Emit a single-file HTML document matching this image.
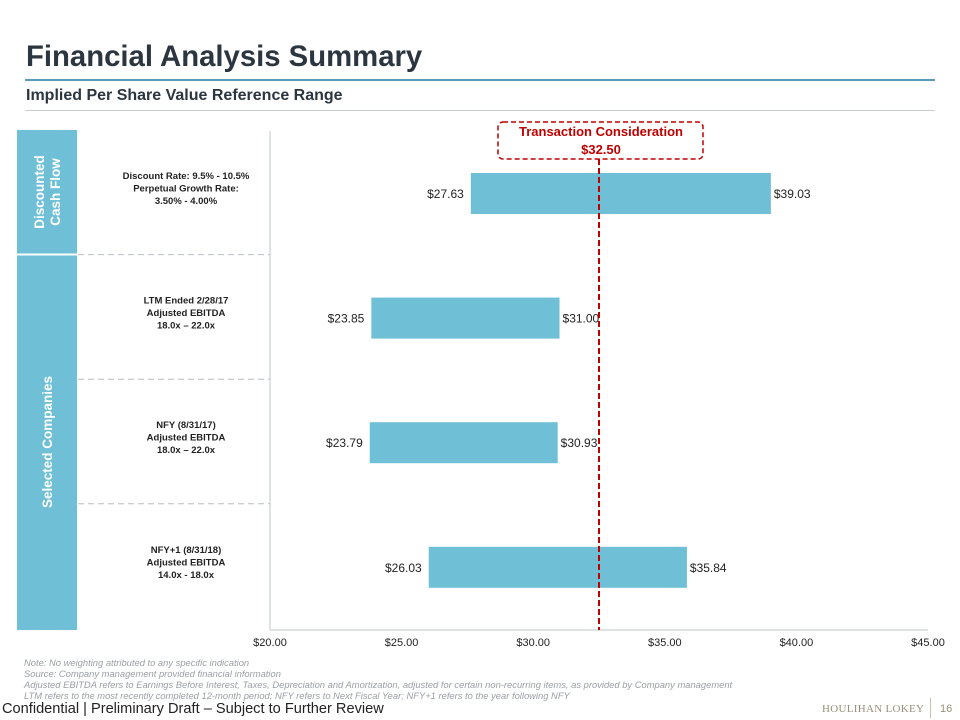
<!DOCTYPE html>
<html><head><meta charset="utf-8"><style>
body{margin:0;width:960px;height:720px;background:#fff;font-family:"Liberation Sans",Arial,sans-serif;position:relative;overflow:hidden}
.a{position:absolute}
</style></head><body>
<div class="a" style="left:26px;top:40px;font-size:29.3px;font-weight:bold;color:#2b3640">Financial Analysis Summary</div>
<div class="a" style="left:25px;top:79px;width:910px;height:2px;background:#5b9bc0"></div>
<div class="a" style="left:26px;top:87px;font-size:16px;font-weight:bold;color:#2b3640">Implied Per Share Value Reference Range</div>
<div class="a" style="left:25px;top:110px;width:910px;height:1px;background:#c8cdd0"></div>
<svg class="a" style="left:0;top:0" width="960" height="720" id="chart"></svg>
<div class="a" style="left:24px;top:657px;font-size:9.4px;font-style:italic;color:#9aa0a4;line-height:11px;white-space:nowrap">Note: No weighting attributed to any specific indication<br>Source: Company management provided financial information<br>Adjusted EBITDA refers to Earnings Before Interest, Taxes, Depreciation and Amortization, adjusted for certain non-recurring items, as provided by Company management<br>LTM refers to the most recently completed 12-month period; NFY refers to Next Fiscal Year; NFY+1 refers to the year following NFY</div>
<div class="a" style="left:2px;top:701px;font-size:14.6px;color:#222;white-space:nowrap">Confidential | Preliminary Draft – Subject to Further Review</div>
<div class="a" style="left:822px;top:703px;font-family:'Liberation Serif',serif;font-size:11px;letter-spacing:0.3px;color:#9a8f7a">HOULIHAN LOKEY</div>
<div class="a" style="left:930px;top:698px;width:1px;height:20px;background:#c9c0b0"></div>
<div class="a" style="left:940px;top:703px;font-size:11px;color:#9a8f7a">16</div>
<script>
const lows=[27.63,23.85,23.79,26.03];
const highs=[39.03,31.00,30.93,35.84];
const ticks=[20,25,30,35,40,45];
const txValue=32.50;
const rowLabels=[["Discount Rate: 9.5% - 10.5%","Perpetual Growth Rate:","3.50% - 4.00%"],["LTM Ended 2/28/17","Adjusted EBITDA","18.0x – 22.0x"],["NFY (8/31/17)","Adjusted EBITDA","18.0x – 22.0x"],["NFY+1 (8/31/18)","Adjusted EBITDA","14.0x - 18.0x"]];
const svg=document.getElementById('chart');const NS='http://www.w3.org/2000/svg';
const X0=270,X1=928,top0=130,bot=630,rowH=124.6;
const x=v=>X0+(v-20)/25*(X1-X0);
const yc=i=>top0+rowH*i+63;
function mk(t,a,p){const e=document.createElementNS(NS,t);for(const k in a)e.setAttribute(k,a[k]);(p||svg).appendChild(e);return e}
let e;
e=mk('rect',{x:17,y:130,width:60,height:500,fill:'#6fbfd6'});

e=mk('line',{x1:17,x2:77,y1:254.5,y2:254.5,stroke:'#fff','stroke-width':2});

e=mk('text',{transform:'translate(52,192) rotate(-90)','text-anchor':'middle','font-size':13.5,'font-weight':'bold',fill:'#fff'});
e.innerHTML='<tspan x="0" dy="-8">Discounted</tspan><tspan x="0" dy="16">Cash Flow</tspan>';

e=mk('text',{transform:'translate(52,442) rotate(-90)','text-anchor':'middle','font-size':13.5,'font-weight':'bold',fill:'#fff'});e.textContent='Selected Companies';

for(let i=1;i<4;i++){e=mk('line',{x1:78,x2:270,y1:top0+rowH*i,y2:top0+rowH*i,stroke:'#b8bec2','stroke-dasharray':'6,4'});
}
e=mk('line',{x1:X0,x2:X0,y1:131,y2:bot,stroke:'#bfc4c7'});

e=mk('line',{x1:X0,x2:X1,y1:bot,y2:bot,stroke:'#bfc4c7'});

ticks.forEach(t=>{e=mk('text',{x:x(t),y:646,'text-anchor':'middle','font-size':11,fill:'#222'});e.textContent='$'+t.toFixed(2);
});
rowLabels.forEach((ls,i)=>{e=mk('text',{x:186,y:yc(i)-14,'text-anchor':'middle','font-size':9.5,'font-weight':'bold',fill:'#222'});
e.innerHTML=ls.map((l,j)=>'<tspan x="186" dy="'+(j?12.5:0)+'">'+l+'</tspan>').join('');
});
lows.forEach((lo,i)=>{const hi=highs[i];
e=mk('rect',{x:x(lo),y:yc(i)-20,width:x(hi)-x(lo),height:41,fill:'#6fbfd6'});

e=mk('text',{x:x(lo)-7,y:yc(i)+5,'text-anchor':'end','font-size':12,fill:'#222'});e.textContent='$'+lo.toFixed(2);

e=mk('text',{x:x(hi)+3,y:yc(i)+5,'font-size':12,fill:'#222'});e.textContent='$'+hi.toFixed(2);
});
e=mk('line',{x1:x(txValue),x2:x(txValue),y1:159,y2:bot,stroke:'#c00000','stroke-width':2,'stroke-dasharray':'6,3'});

e=mk('rect',{x:x(txValue)-101,y:122,width:205,height:37,rx:5,fill:'#fff',stroke:'#c00000','stroke-width':1.5,'stroke-dasharray':'5,3'});

e=mk('text',{x:x(txValue)+2,y:136,'text-anchor':'middle','font-size':13,'font-weight':'bold',fill:'#c00000'});e.textContent='Transaction Consideration';

e=mk('text',{x:x(txValue)+2,y:154,'text-anchor':'middle','font-size':13,'font-weight':'bold',fill:'#c00000'});e.textContent='$'+txValue.toFixed(2);

</script>
</body></html>
